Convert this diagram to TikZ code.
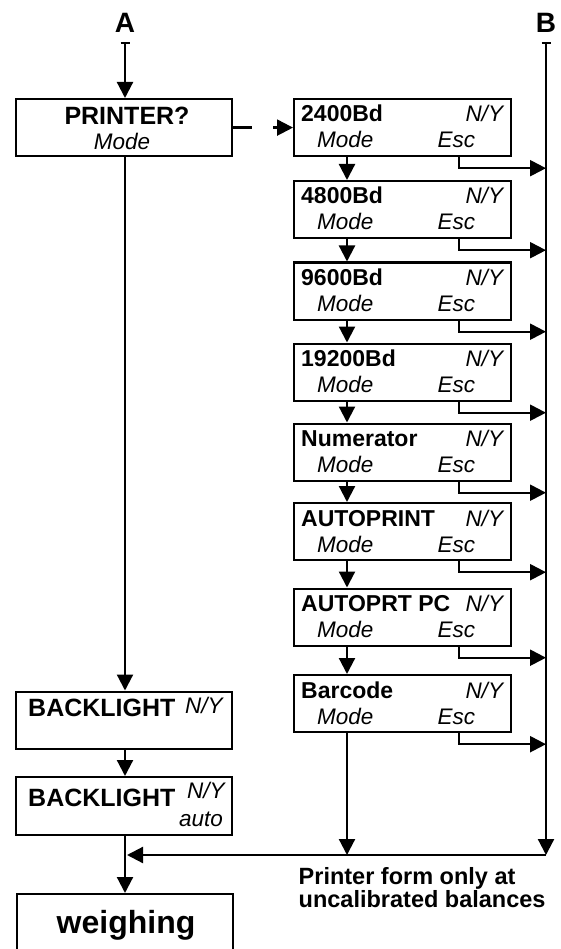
\documentclass[tikz,border=0pt]{standalone}
\usepackage{fontspec}
\setmainfont{Liberation Sans}
\usetikzlibrary{arrows.meta}

\tikzset{
  panel/.style={draw, line width=2.2pt, minimum width=217pt, minimum height=57pt, inner sep=0pt, anchor=north west},
  ttl/.style={font=\fontsize{23}{27}\selectfont\bfseries, inner sep=0pt},
  big/.style={font=\fontsize{25}{27}\selectfont\bfseries, inner sep=0pt},
  hint/.style={font=\fontsize{22.5}{27}\selectfont\itshape, inner sep=0pt},
  note/.style={font=\fontsize{23.5}{27}\selectfont\bfseries, inner sep=0pt, anchor=base west},
  wire/.style={line width=2.2pt},
  flow/.style={line width=2.2pt, -{Triangle[length=16pt,width=16pt]}},
  bus/.style={line width=2.2pt, {Bar[width=9pt]}-{Triangle[length=16pt,width=16pt]}}
}

\begin{document}
\begin{tikzpicture}[x=1pt,y=-1pt]
  \clip (0,0) rectangle (561,949);

  \node[big, font=\fontsize{28}{30}\selectfont\bfseries, anchor=base] (alab) at (125,33) {A};
  \node[big, font=\fontsize{28}{30}\selectfont\bfseries, anchor=base] (blab) at (546,33) {B};
  \coordinate (atop) at (125,42);
  \coordinate (btop) at (546,42);
  \coordinate (bbot) at (546,855);
  \coordinate (merge) at (127,855);

  \node[panel, minimum width=216pt] (pr) at (15,98) {};
  \node[big, anchor=base] (prt) at (127,125) {PRINTER?};
  \node[hint, anchor=base] (prm) at (122,150) {Mode};

  \node[panel, minimum width=216pt, minimum height=57.5pt] (bl1) at (15,690.5) {};
  \node[big, anchor=base west] (bl1t) at (28,716.5) {BACKLIGHT};
  \node[hint, anchor=base west] (bl1n) at (185,713) {N/Y};

  \node[panel, minimum width=216pt, minimum height=58pt] (bl2) at (15,776) {};
  \node[big, anchor=base west] (bl2t) at (28,806.5) {BACKLIGHT};
  \node[hint, anchor=base west] (bl2n) at (187,798.5) {N/Y};
  \node[hint, anchor=base east] (bl2a) at (223,826.5) {auto};

  \node[panel, minimum width=216pt, minimum height=70pt] (wg) at (16,893) {};
  \node[big, font=\fontsize{32}{34}\selectfont\bfseries, anchor=base] (wgt) at (126,933) {weighing};

  \foreach \t/\top [count=\i] in {2400Bd/98, 4800Bd/180, 9600Bd/261.5, 19200Bd/342.5, Numerator/422.5, AUTOPRINT/502, AUTOPRT PC/587.5, Barcode/674} {
    \node[panel] (r\i) at (293,\top) {};
    \node[ttl, anchor=base west] (t\i) at ([shift={(8,24)}]r\i.north west) {\t};
    \node[hint, anchor=base east] (n\i) at ([shift={(-9,24)}]r\i.north east) {N/Y};
    \node[hint, anchor=base west] (m\i) at ([shift={(24,50)}]r\i.north west) {Mode};
    \node[hint, anchor=base west] (e\i) at ([shift={(144.5,50)}]r\i.north west) {Esc};
    \draw[flow] ([xshift=166pt]r\i.south west) -- ++(0,11) coordinate (k\i) -- (k\i -| btop);
  }
  \foreach \i [evaluate=\i as \j using int(\i+1)] in {1,...,7}
    \draw[flow] ([xshift=54pt]r\i.south west) -- ([xshift=54pt]r\j.north west);

  \draw[bus] (atop) -- (atop |- pr.north);
  \draw[wire] (pr.east) -- ++(19,0);
  \draw[flow] ([xshift=-20pt]r1.west) -- (r1.west);
  \draw[flow] (pr.south -| atop) -- (bl1.north -| atop);
  \draw[flow] (bl1.south -| atop) -- (bl2.north -| atop);
  \draw[flow] (bl2.south -| atop) -- (wg.north -| atop);

  \draw[bus] (btop) -- (bbot);
  \draw[flow] ([xshift=54pt]r8.south west) coordinate (d8) -- (d8 |- bbot);
  \draw[flow] (bbot) -- (merge);

  \node[note] (c1) at (298.5,884.5) {Printer form only at};
  \node[note] (c2) at (298.5,907) {uncalibrated balances};
\end{tikzpicture}
\end{document}
